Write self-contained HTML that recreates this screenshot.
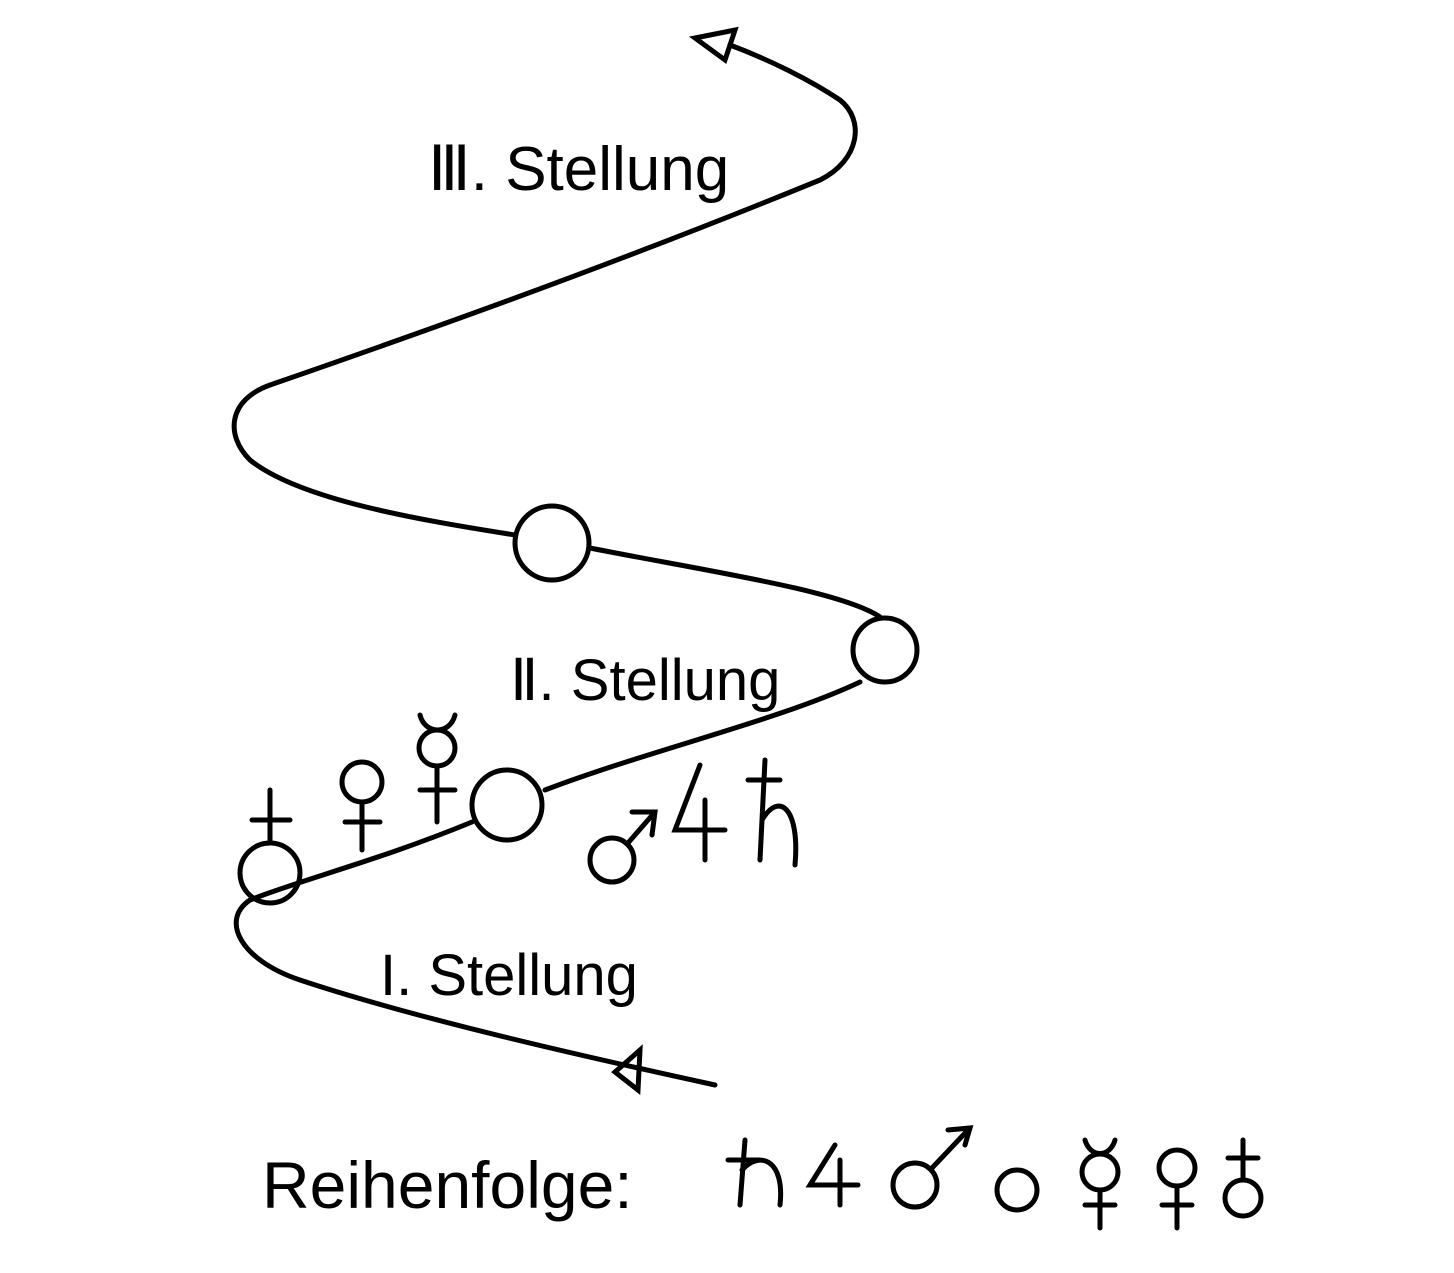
<!DOCTYPE html>
<html><head><meta charset="utf-8"><style>
html,body{margin:0;padding:0;background:#fff;}
svg{display:block;}
text{font-family:"Liberation Sans","DejaVu Sans",sans-serif;fill:#000;}
</style></head><body>
<svg width="1454" height="1273" viewBox="0 0 1454 1273" xmlns="http://www.w3.org/2000/svg">
<g fill="none" stroke="#000" stroke-width="5" stroke-linecap="round">
<path d="M715,1085 C600,1060 420,1020 300,980 C240,960 220,920 250,900 C300,880 380,860 472,822"/>
<path d="M545,790 C650,750 780,720 860,682"/>
<path d="M880,617 C840,590 700,570 590,548"/>
<path d="M515,535 C420,520 300,500 250,460 C225,435 228,400 270,385 C400,340 600,270 820,180 C860,160 865,120 840,100 C810,80 770,60 730,45"/>
<circle cx="552" cy="543" r="37"/>
<circle cx="885" cy="650" r="32"/>
<circle cx="507" cy="805" r="35"/>
<circle cx="270" cy="873" r="30"/>
<path d="M695,38 L735,30 L725,60 Z"/>
<path d="M640,1050 L615,1072 L638,1090 Z"/>
<path d="M270,790 L270,842 M252,820 L290,820"/>
<circle cx="362" cy="782" r="20"/>
<path d="M362,802 L362,850 M345,822 L380,822"/>
<circle cx="437" cy="748" r="18"/>
<path d="M420,715 C425,735 450,735 455,715 M437,766 L437,822 M420,790 L455,790"/>
<circle cx="612" cy="860" r="22"/>
<path d="M628,843 L655,812 M632,812 L655,812 L652,835"/>
<path d="M700,765 L675,830 L725,830 M705,800 L705,860"/>
<path d="M765,760 L760,860 M748,780 L780,780 M762,820 C780,790 800,810 795,865"/>
<path d="M745,1140 L740,1205 M728,1160 L760,1160 M742,1170 C760,1150 785,1160 780,1205"/>
<path d="M835,1145 L810,1185 L858,1185 M840,1160 L840,1205"/>
<circle cx="915" cy="1185" r="22"/>
<path d="M932,1168 L968,1130 M948,1130 L970,1128 L965,1145"/>
<circle cx="1017" cy="1190" r="20"/>
<circle cx="1100" cy="1172" r="18"/>
<path d="M1085,1140 C1090,1158 1110,1158 1115,1140 M1100,1190 L1100,1228 M1085,1205 L1115,1205"/>
<circle cx="1177" cy="1168" r="18"/>
<path d="M1177,1186 L1177,1228 M1162,1205 L1192,1205"/>
<circle cx="1243" cy="1198" r="18"/>
<path d="M1243,1140 L1243,1180 M1228,1158 L1258,1158"/>
</g>
<text x="428" y="190" font-size="62">Ⅲ. Stellung</text>
<text x="510" y="700" font-size="58">Ⅱ. Stellung</text>
<text x="380" y="995" font-size="58">I. Stellung</text>
<text x="262" y="1208" font-size="66">Reihenfolge:</text>
</svg>
</body></html>
